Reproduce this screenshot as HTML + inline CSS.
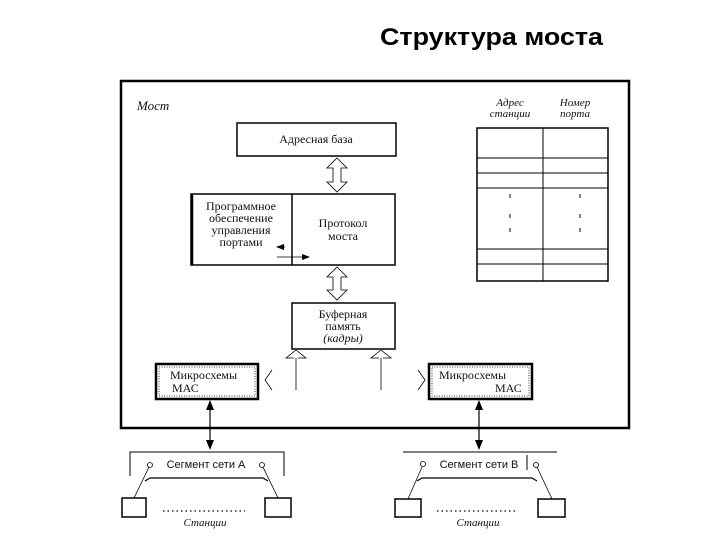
<!DOCTYPE html>
<html><head><meta charset="utf-8"><style>
html,body{margin:0;padding:0;background:#fff;width:720px;height:540px;overflow:hidden}
svg{display:block}
.s{font-family:"Liberation Serif",serif;font-size:11px;fill:#111}
.i{font-style:italic}
</style></head><body>
<svg width="720" height="540" viewBox="0 0 720 540" xmlns="http://www.w3.org/2000/svg">
<text x="380" y="45" font-family="Liberation Sans, sans-serif" font-size="24" font-weight="bold" textLength="223" lengthAdjust="spacingAndGlyphs" fill="#000">Структура моста</text>
<g fill="none" stroke="#000">
<rect x="121" y="81" width="508" height="347" stroke-width="2.5"/>
<rect x="237" y="123" width="159" height="33" stroke-width="1.5"/>
<rect x="191" y="194" width="204" height="71" stroke-width="1.5"/>
<line x1="292" y1="194" x2="292" y2="265" stroke-width="1.5"/>
<line x1="192" y1="194" x2="192" y2="265" stroke-width="2.5"/>
<rect x="292" y="303" width="103" height="46" stroke-width="1.5"/>
<rect x="156" y="364" width="102" height="35" stroke-width="2.5"/>
<rect x="159" y="367" width="96" height="29" stroke-width="0.8" stroke-dasharray="1,1.5"/>
<rect x="429" y="364" width="103" height="35" stroke-width="2.5"/>
<rect x="432" y="367" width="97" height="29" stroke-width="0.8" stroke-dasharray="1,1.5"/>
<rect x="477" y="128" width="131" height="153" stroke-width="1.5"/>
<line x1="543" y1="128" x2="543" y2="281"/>
<line x1="477" y1="158" x2="608" y2="158"/>
<line x1="477" y1="173" x2="608" y2="173"/>
<line x1="477" y1="188" x2="608" y2="188"/>
<line x1="477" y1="249" x2="608" y2="249"/>
<line x1="477" y1="264" x2="608" y2="264"/>
<path d="M337 158 L347 168 L341 168 L341 182 L347 182 L337 192 L327 182 L333 182 L333 168 L327 168 Z" stroke-width="0.8"/>
<path d="M337 267 L347 277 L341 277 L341 290 L347 290 L337 300 L327 290 L333 290 L333 277 L327 277 Z" stroke-width="0.8"/>
<path d="M296 350 L306 358 L298 358 M294 358 L286 358 L296 350" stroke-width="0.8"/>
<line x1="296" y1="358" x2="296" y2="390" stroke-width="0.8"/>
<path d="M381 350 L391 358 L383 358 M379 358 L371 358 L381 350" stroke-width="0.8"/>
<line x1="381" y1="358" x2="381" y2="390" stroke-width="0.8"/>
<path d="M272 370 L265 380 L272 390" stroke-width="0.8"/>
<path d="M418 370 L425 380 L418 390" stroke-width="0.8"/>
<line x1="277" y1="257" x2="308" y2="257" stroke-width="0.8"/>
<line x1="280" y1="247" x2="285" y2="247" stroke-width="0.8"/>
<line x1="210" y1="404" x2="210" y2="446" stroke-width="1.2"/>
<line x1="479" y1="404" x2="479" y2="446" stroke-width="1.2"/>
<path d="M130 476 L130 452 L284 452 L284 476" stroke-width="1"/>
<path d="M145 481 L150 478 L263 478 L268 481" stroke-width="1.2"/>
<circle cx="150" cy="465" r="2.5" stroke-width="0.8"/>
<circle cx="262" cy="465" r="2.5" stroke-width="0.8"/>
<line x1="149" y1="467" x2="134" y2="498" stroke-width="0.8"/>
<line x1="263" y1="467" x2="278" y2="498" stroke-width="0.8"/>
<rect x="122" y="498" width="24" height="19" stroke-width="1.5"/>
<rect x="265" y="498" width="26" height="19" stroke-width="1.5"/>
<line x1="163" y1="511" x2="245" y2="511" stroke-width="1.2" stroke-dasharray="1.5,3"/>
<line x1="403" y1="452" x2="557" y2="452" stroke-width="1"/>
<line x1="527" y1="455" x2="527" y2="470" stroke-width="1"/>
<path d="M417 481 L422 478 L532 478 L537 481" stroke-width="1.2"/>
<circle cx="423" cy="464" r="2.5" stroke-width="0.8"/>
<circle cx="536" cy="465" r="2.5" stroke-width="0.8"/>
<line x1="422" y1="467" x2="408" y2="499" stroke-width="0.8"/>
<line x1="537" y1="467" x2="552" y2="499" stroke-width="0.8"/>
<rect x="395" y="499" width="26" height="18" stroke-width="1.5"/>
<rect x="538" y="499" width="27" height="18" stroke-width="1.5"/>
<line x1="437" y1="511" x2="518" y2="511" stroke-width="1.2" stroke-dasharray="1.5,3"/>
<line x1="510" y1="194" x2="510" y2="198" stroke-width="1"/>
<line x1="510" y1="214" x2="510" y2="218" stroke-width="1"/>
<line x1="510" y1="228" x2="510" y2="232" stroke-width="1"/>
<line x1="580" y1="194" x2="580" y2="198" stroke-width="1"/>
<line x1="580" y1="214" x2="580" y2="218" stroke-width="1"/>
<line x1="580" y1="228" x2="580" y2="232" stroke-width="1"/>
</g>
<g fill="#000">
<path d="M210 400 L206 410 L214 410 Z"/>
<path d="M210 450 L206 440 L214 440 Z"/>
<path d="M479 400 L475 410 L483 410 Z"/>
<path d="M479 450 L475 440 L483 440 Z"/>
<path d="M276 247 L284 244 L284 250 Z"/>
<path d="M310 257 L302 254 L302 260 Z"/>
</g>
<g class="s">
<text x="137" y="110" class="i" font-size="13">Мост</text>
<text x="316" y="143" text-anchor="middle" font-size="12">Адресная база</text>
<text x="241" y="210" text-anchor="middle" font-size="12">Программное</text>
<text x="241" y="222" text-anchor="middle" font-size="12">обеспечение</text>
<text x="241" y="234" text-anchor="middle" font-size="12">управления</text>
<text x="241" y="246" text-anchor="middle" font-size="12">портами</text>
<text x="343" y="227" text-anchor="middle" font-size="12">Протокол</text>
<text x="343" y="240" text-anchor="middle" font-size="12">моста</text>
<text x="343" y="318" text-anchor="middle" font-size="12">Буферная</text>
<text x="343" y="330" text-anchor="middle" font-size="12">память</text>
<text x="343" y="342" text-anchor="middle" class="i" font-size="12">(кадры)</text>
<text x="170" y="379" font-size="12">Микросхемы</text>
<text x="172" y="392" font-size="12">МАС</text>
<text x="439" y="379" font-size="12">Микросхемы</text>
<text x="495" y="392" font-size="12">МАС</text>
<text x="510" y="106" text-anchor="middle" class="i">Адрес</text>
<text x="510" y="117" text-anchor="middle" class="i">станции</text>
<text x="575" y="106" text-anchor="middle" class="i">Номер</text>
<text x="575" y="117" text-anchor="middle" class="i">порта</text>
<text x="206" y="468" text-anchor="middle" font-family="Liberation Sans, sans-serif" font-size="11">Сегмент сети А</text>
<text x="479" y="468" text-anchor="middle" font-family="Liberation Sans, sans-serif" font-size="11">Сегмент сети В</text>
<text x="205" y="526" text-anchor="middle" class="i">Станции</text>
<text x="478" y="526" text-anchor="middle" class="i">Станции</text>
</g>
</svg>
</body></html>
